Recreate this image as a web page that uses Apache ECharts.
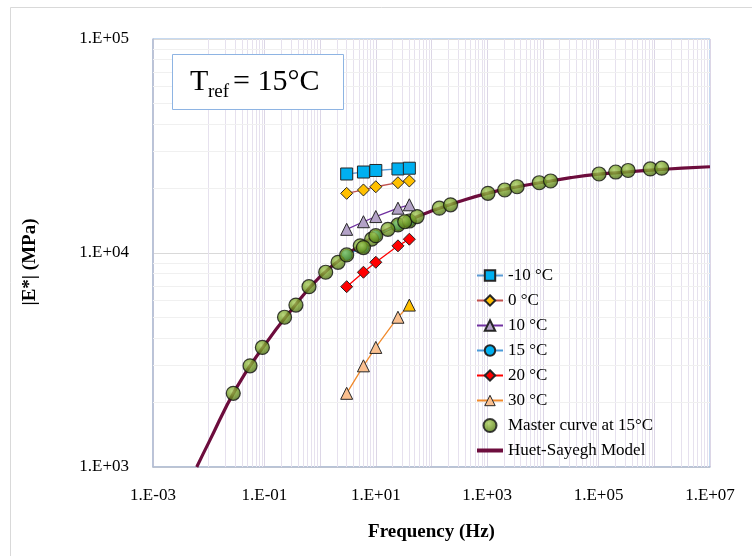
<!DOCTYPE html>
<html>
<head>
<meta charset="utf-8">
<title>Master curve |E*|</title>
<script src="https://cdn.jsdelivr.net/npm/echarts@6/dist/echarts.min.js"></script>
<style>
    html, body { margin: 0; padding: 0; background: #ffffff; }
    #chart { width: 752px; height: 556px; }
</style>
</head>
<body>
<div id="chart"></div>
<script>
// Test frequencies (Hz)
const testFreq = [3, 6, 10, 25, 40];

// |E*| (MPa) per test temperature
const eMinus10 = [23400, 23900, 24300, 24700, 24900];
const e0 = [19000, 19700, 20400, 21300, 21700];
const e10 = [12900, 14000, 14800, 16200, 16800];
const e15 = [9790, 10600, 12050, 13520, 14110];
const e20 = [6960, 8130, 9050, 10800, 11600];
const e30 = [2210, 2970, 3620, 5010, 5710];

// Master curve at 15 °C (reduced frequency, |E*|)
const masterFreq = [
    0.0276, 0.0552, 0.092, 0.23, 0.368,
    0.632, 1.26, 2.1, 5.26, 8.42,
    3, 6, 10, 25, 40,
    16.5, 33.1, 55.1, 138, 220,
    1032, 2064, 3440, 8600, 13760,
    102000, 203000, 339000, 847000, 1360000
];
const masterE = [
    2210, 2970, 3620, 5010, 5710,
    6960, 8130, 9050, 10800, 11600,
    9790, 10600, 12050, 13520, 14110,
    12900, 14000, 14800, 16200, 16800,
    19000, 19700, 20400, 21300, 21700,
    23400, 23900, 24300, 24700, 24900
];

// Huet-Sayegh model curve
const hsFreq = [0.0061, 0.01, 0.0316, 0.1, 0.316, 1, 3.16, 10, 31.6, 100, 316, 1000,
    3160, 10000, 31600, 100000, 316000, 1000000, 3160000, 10000000];
const hsE = [1000, 1300, 2350, 3700, 5480, 7750, 9900, 12050, 13900, 15700, 17400, 19000,
    20300, 21400, 22500, 23350, 23900, 24440, 24900, 25300];

const FONT = '"Liberation Serif", "Times New Roman", serif';

function pairs(xs, ys) {
    return xs.map((x, i) => [x, ys[i]]);
}

// 1.E+05 style tick labels
function sciLabel(v) {
    const e = Math.round(Math.log10(v));
    const sign = e < 0 ? '-' : '+';
    return '1.E' + sign + String(Math.abs(e)).padStart(2, '0');
}

// Minor log gridlines (2..9 within each decade)
function minorValues(fromExp, toExp) {
    const out = [];
    for (let e = fromExp; e < toExp; e++) {
        for (let k = 2; k <= 9; k++) out.push(k * Math.pow(10, e));
    }
    return out;
}

const minorLines = []
    .concat(minorValues(-3, 7).map(v => ({ xAxis: v, lineStyle: { color: '#e6e1ee', width: 1, type: 'solid' } })))
    .concat(minorValues(3, 5).map(v => ({ yAxis: v, lineStyle: { color: '#f0f0f0', width: 1, type: 'solid' } })));

function tempSeries(name, values, symbol, size, fill, line, z) {
    return {
        name: name,
        type: 'line',
        data: pairs(testFreq, values),
        symbol: symbol,
        symbolSize: size,
        showAllSymbol: true,
        z: z || 5,
        lineStyle: { color: line, width: 1.3 },
        itemStyle: { color: fill, borderColor: '#262626', borderWidth: 1 }
    };
}

const series30 = tempSeries('30 °C', e30, 'triangle', 12, '#fac090', '#f08a2c');
// last 30 °C point is drawn in a brighter orange on the figure
series30.data[4] = { value: series30.data[4], itemStyle: { color: '#ffc000' } };

const chart = echarts.init(document.getElementById('chart'));

chart.setOption({
    animation: false,
    backgroundColor: '#ffffff',
    grid: {
        left: 153, right: 42, top: 39, bottom: 89,
        show: true, borderColor: '#8eb4e3', borderWidth: 1
    },
    xAxis: {
        type: 'log', logBase: 10,
        min: 0.001, max: 10000000, interval: 1,
        name: 'Frequency (Hz)', nameLocation: 'middle', nameGap: 56,
        nameTextStyle: { fontFamily: FONT, fontSize: 19, fontWeight: 'bold', color: '#000' },
        axisLine: { show: true, lineStyle: { color: '#b4bdd0', width: 1.5 } },
        axisTick: { show: false },
        axisLabel: {
            fontFamily: FONT, fontSize: 17, color: '#000', margin: 20,
            showMinLabel: true, showMaxLabel: true,
            formatter: v => (Math.abs(Math.round(Math.log10(v))) % 2 === 1 ? sciLabel(v) : '')
        },
        splitLine: { show: true, lineStyle: { color: '#dcd6e6', width: 1 } }
    },
    yAxis: {
        type: 'log', logBase: 10,
        min: 1000, max: 100000, interval: 1,
        axisLine: { show: true, lineStyle: { color: '#b4bdd0', width: 1.5 } },
        axisTick: { show: false },
        axisLabel: {
            fontFamily: FONT, fontSize: 17, color: '#000', margin: 24,
            formatter: v => sciLabel(v)
        },
        splitLine: { show: true, lineStyle: { color: '#d9d9d9', width: 1 } }
    },
    legend: {
        orient: 'vertical',
        left: 470, top: 262,
        itemWidth: 26, itemHeight: 13, itemGap: 8,
        z: 10,
        textStyle: { fontFamily: FONT, fontSize: 17, color: '#000' },
        data: ['-10 °C', '0 °C', '10 °C', '15 °C', '20 °C',
            { name: '30 °C', itemStyle: { color: '#fac090', borderColor: '#262626', borderWidth: 1 } },
            'Master curve at 15°C',
            {
                name: 'Huet-Sayegh Model',
                itemStyle: { color: 'rgba(0,0,0,0)', borderWidth: 0 },
                lineStyle: { width: 4, color: '#6d0d3d' }
            }]
    },
    graphic: [
        // outer chart frame
        {
            type: 'rect', left: 8, top: 5, silent: true,
            shape: { width: 760, height: 560 },
            style: { fill: 'none', stroke: '#d9d9d9', lineWidth: 1 }
        },
        // T_ref annotation box
        {
            type: 'rect', left: 172, top: 54, silent: true, z: 10,
            shape: { width: 171, height: 55 },
            style: { fill: '#ffffff', stroke: '#8eb4e3', lineWidth: 1 }
        },
        {
            type: 'text', x: 190, y: 82, z: 11, silent: true,
            style: { text: 'T', font: '30px ' + FONT, fill: '#000', verticalAlign: 'middle' }
        },
        {
            type: 'text', x: 208, y: 92, z: 11, silent: true,
            style: { text: 'ref', font: '19px ' + FONT, fill: '#000', verticalAlign: 'middle' }
        },
        {
            type: 'text', x: 233, y: 82, z: 11, silent: true,
            style: { text: '= 15°C', font: '30px ' + FONT, fill: '#000', verticalAlign: 'middle' }
        },
        // y axis title
        {
            type: 'text', x: 30, y: 262, rotation: Math.PI / 2, silent: true,
            style: {
                text: '|E*| (MPa)', font: 'bold 19px ' + FONT, fill: '#000',
                align: 'center', verticalAlign: 'middle'
            }
        }
    ],
    series: [
        {
            name: 'minor-grid',
            type: 'line',
            data: [[1, 1000]],
            symbol: 'none',
            lineStyle: { opacity: 0 },
            z: 1,
            silent: true,
            markLine: {
                z: 1,
                silent: true,
                symbol: ['none', 'none'],
                label: { show: false },
                data: minorLines
            }
        },
        {
            name: 'Huet-Sayegh Model',
            type: 'line',
            data: pairs(hsFreq, hsE),
            smooth: true,
            symbol: 'none',
            z: 2,
            lineStyle: { color: '#6d0d3d', width: 3.2 },
            itemStyle: { color: '#6d0d3d' }
        },
        tempSeries('15 °C', e15, 'circle', 11, '#00b0f0', '#4a9ad8', 3),
        {
            name: 'Master curve at 15°C',
            type: 'scatter',
            data: pairs(masterFreq, masterE),
            symbol: 'circle',
            symbolSize: 14,
            z: 4,
            itemStyle: {
                color: {
                    type: 'radial', x: 0.4, y: 0.35, r: 0.65,
                    colorStops: [
                        { offset: 0, color: '#a8cc5c' },
                        { offset: 0.5, color: '#78a02a' },
                        { offset: 1, color: '#4a6a12' }
                    ]
                },
                borderColor: '#111111', borderWidth: 1.2
            }
        },
        tempSeries('-10 °C', eMinus10, 'rect', 12, '#00b0f0', '#5b9bd5'),
        tempSeries('0 °C', e0, 'diamond', 12, '#ffc000', '#c0504d'),
        tempSeries('10 °C', e10, 'triangle', 12, '#b3a2c7', '#7030a0'),
        tempSeries('20 °C', e20, 'diamond', 12, '#ff0000', '#ff0000'),
        series30
    ]
});
</script>
</body>
</html>
